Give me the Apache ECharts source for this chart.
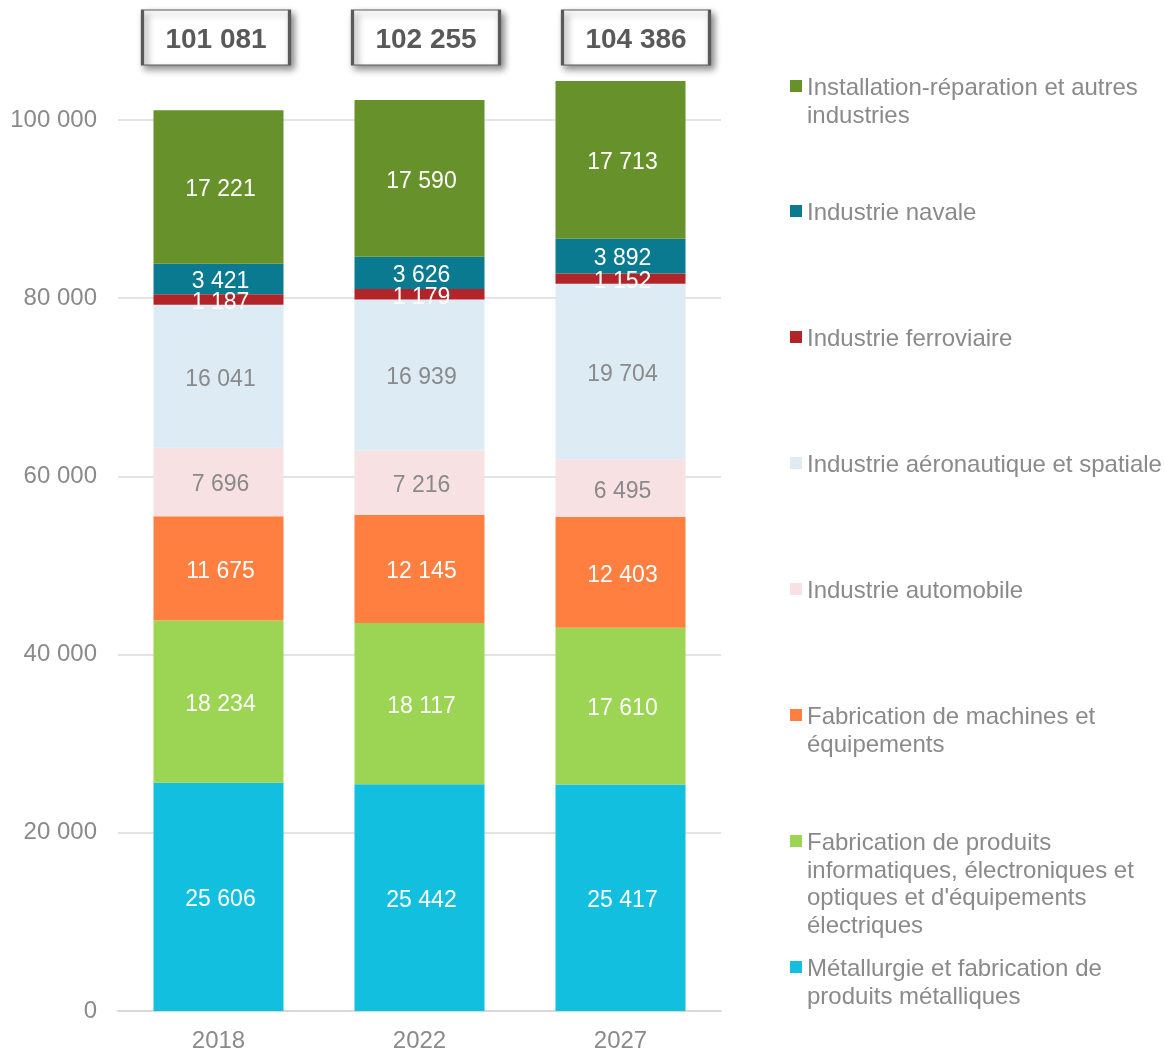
<!DOCTYPE html>
<html>
<head>
<meta charset="utf-8">
<script src="https://cdn.jsdelivr.net/npm/echarts@6/dist/echarts.min.js"></script>
<style>
html,body{margin:0;padding:0;background:#fff;}
#chart{width:1164px;height:1050px;}
</style>
</head>
<body>
<div id="chart"></div>
<script>
// ---- Data ----
const years = ['2018', '2022', '2027'];
const seriesNames = [
  'Métallurgie et fabrication de produits métalliques',
  "Fabrication de produits informatiques, électroniques et optiques et d'équipements électriques",
  'Fabrication de machines et équipements',
  'Industrie automobile',
  'Industrie aéronautique et spatiale',
  'Industrie ferroviaire',
  'Industrie navale',
  'Installation-réparation et autres industries'
];
const metallurgie = [25606, 25442, 25417];
const informatique = [18234, 18117, 17610];
const machines = [11675, 12145, 12403];
const automobile = [7696, 7216, 6495];
const aeronautique = [16041, 16939, 19704];
const ferroviaire = [1187, 1179, 1152];
const navale = [3421, 3626, 3892];
const installation = [17221, 17590, 17713];
const totals = [101081, 102255, 104386];
const yTicks = [0, 20000, 40000, 60000, 80000, 100000];

const colors = ['#12BFDF', '#9BD553', '#FF7F40', '#F7E1E3', '#DDEBF5', '#B22428', '#0A7A90', '#67912A'];
const labelColors = ['#fff', '#fff', '#fff', '#8a8a8a', '#8a8a8a', '#fff', '#fff', '#fff'];
const values = [metallurgie, informatique, machines, automobile, aeronautique, ferroviaire, navale, installation];

// legend wrapping (as in the reference)
const legendText = {};
legendText[seriesNames[0]] = 'Métallurgie et fabrication de\nproduits métalliques';
legendText[seriesNames[1]] = "Fabrication de produits\ninformatiques, électroniques et\noptiques et d'équipements\nélectriques";
legendText[seriesNames[2]] = 'Fabrication de machines et\néquipements';
legendText[seriesNames[3]] = 'Industrie automobile';
legendText[seriesNames[4]] = 'Industrie aéronautique et spatiale';
legendText[seriesNames[5]] = 'Industrie ferroviaire';
legendText[seriesNames[6]] = 'Industrie navale';
legendText[seriesNames[7]] = 'Installation-réparation et autres\nindustries';

function fmt(v) { return String(v).replace(/\B(?=(\d{3})+(?!\d))/g, ' '); }

const GRAY = '#8a8a8a';
const FONT = 'Arial, "Liberation Sans", sans-serif';
const LH = 27.5;

// legend: one per item, top to bottom order
const legendOrder = [7, 6, 5, 4, 3, 2, 1, 0];
const legendFirstLineY = [87, 212, 338, 464, 590, 716, 842, 968];
const legends = legendOrder.map((si, k) => {
  const name = seriesNames[si];
  const n = legendText[name].split('\n').length;
  const h = n * LH;
  const sq = 12;
  const off = (LH - sq) / 2 - 2.5;
  return {
    data: [{ name: name, icon: 'path://M0,0 M0,' + off + ' h' + sq + ' v' + sq + ' h-' + sq + ' Z M0,' + h }],
    left: 790,
    top: legendFirstLineY[k] - LH / 2 + 1.5,
    padding: 0,
    itemWidth: sq,
    itemHeight: h,
    itemGap: 0,
    selectedMode: false,
    formatter: (nm) => legendText[nm],
    textStyle: { color: GRAY, fontSize: 24, fontFamily: FONT, lineHeight: LH }
  };
});

const series = seriesNames.map((name, i) => ({
  name: name,
  type: 'bar',
  stack: 'total',
  barWidth: 130,
  xAxisIndex: 0,
  yAxisIndex: 0,
  data: values[i],
  itemStyle: { color: colors[i] },
  label: {
    show: true,
    position: 'inside',
    offset: [2, 3],
    formatter: (p) => fmt(p.value),
    color: labelColors[i],
    fontSize: 23,
    fontFamily: FONT
  },
  emphasis: { disabled: true }
}));

series.push({
  name: 'Total',
  type: 'scatter',
  xAxisIndex: 1,
  yAxisIndex: 1,
  data: totals.map(v => ({ value: 0.5, total: v })),
  symbol: 'rect',
  symbolSize: [147, 55],
  itemStyle: {
    color: '#ffffff',
    borderColor: '#5a5a5a',
    borderWidth: 2,
    shadowBlur: 7,
    shadowOffsetX: 3,
    shadowOffsetY: 4,
    shadowColor: 'rgba(0,0,0,0.45)',
    opacity: 1
  },
  label: {
    show: true,
    position: 'inside',
    offset: [0, 3],
    formatter: (p) => fmt(totals[p.dataIndex]),
    color: '#595959',
    fontSize: 28,
    fontWeight: 'bold',
    fontFamily: FONT
  },
  emphasis: { disabled: true },
  silent: true,
  z: 5
});

const chart = echarts.init(document.getElementById('chart'), null, { renderer: 'canvas' });
chart.setOption({
  backgroundColor: '#ffffff',
  animation: false,
  color: colors,
  legend: legends,
  grid: [
    { left: 118, right: 443, top: 75.45, bottom: 39, containLabel: false, outerBoundsMode: 'none' },
    { left: 111, width: 630, top: 10, height: 55, containLabel: false, outerBoundsMode: 'none' }
  ],
  xAxis: [
    {
      type: 'category',
      gridIndex: 0,
      data: years,
      axisLine: { show: true, lineStyle: { color: '#d9d9d9', width: 2 } },
      axisTick: { show: false },
      axisLabel: { color: GRAY, fontSize: 24, fontFamily: FONT, margin: 18 }
    },
    {
      type: 'category',
      gridIndex: 1,
      data: years,
      show: false
    }
  ],
  yAxis: [
    {
      type: 'value',
      gridIndex: 0,
      min: 0,
      max: 105000,
      interval: 20000,
      axisLine: { show: false },
      axisTick: { show: false },
      splitLine: { show: true, showMaxLine: false, lineStyle: { color: '#e3e3e3', width: 2 } },
      axisLabel: {
        color: GRAY, fontSize: 24, fontFamily: FONT, margin: 21,
        padding: [4, 0, 0, 0],
        showMaxLabel: false,
        formatter: (v) => (yTicks.indexOf(v) >= 0 ? fmt(v) : '')
      }
    },
    {
      type: 'value',
      gridIndex: 1,
      min: 0,
      max: 1,
      show: false
    }
  ],
  series: series
});
</script>
</body>
</html>
